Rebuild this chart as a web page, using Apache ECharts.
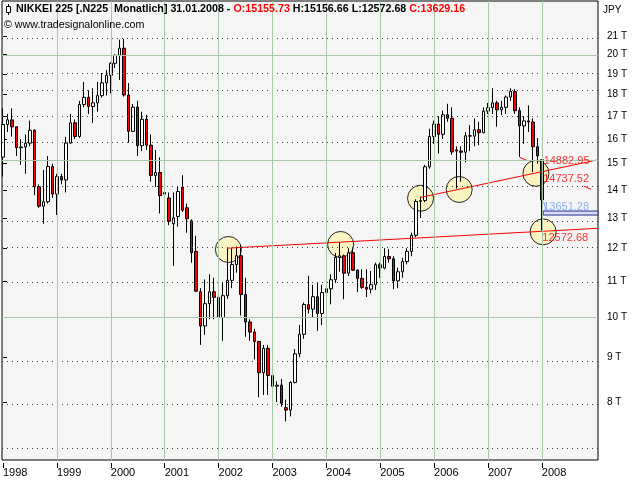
<!DOCTYPE html>
<html><head><meta charset="utf-8">
<script src="https://cdn.jsdelivr.net/npm/echarts@6/dist/echarts.min.js"></script>
<style>html,body{margin:0;padding:0;background:#fff}#c{width:640px;height:480px}</style>
</head><body><div id="c"></div>
<script>
// ---- data ----
const yearLabels = ['1998','1999','2000','2001','2002','2003','2004','2005','2006','2007','2008'];
const yearIdx = [0,12,24,36,48,60,72,84,96,108,120];
const opens = [
15258,16628,16831,16527,15641,15671,15830,16379,14108,13406,13565,14883,
13842,14499,14368,15837,16702,16112,17530,17862,17437,17605,17942,18558,
18934,19540,19960,20337,17974,16332,17411,15727,16861,15747,14539,14649,
13900,13700,12800,13050,14100,13350,12900,11900,10700,9775,10367,10697,
10543,9998,10588,11025,11493,11764,10622,9878,9619,9383,8640,9216,
8579,8340,8363,7880,7831,8425,9083,9563,10344,10219,10560,10101,
10677,10784,11042,11715,11762,11236,11859,11326,11082,10824,10771,10899,
11489,11388,11741,11669,11009,11277,11584,11900,12414,13574,13607,14872,
16111,16650,16205,17060,16906,15550,15505,15457,16141,16128,16399,16274,
17226,17383,17604,17288,17400,17876,18138,17249,16569,16786,16737,15681,
15155.73];
const closes = [
16628,16831,16527,15641,15671,15830,16379,14108,13406,13565,14883,13842,
14499,14368,15837,16702,16112,17530,17862,17437,17605,17942,18558,18934,
19540,19960,20337,17974,16332,17411,15727,16861,15747,14539,14649,13786,
13843,12884,12999,13934,13262,12969,11861,10714,9775,10367,10697,10543,
9998,10588,11025,11493,11764,10622,9878,9619,9383,8640,9216,8579,
8340,8363,7973,7831,8425,9083,9563,10344,10219,10560,10101,10677,
10784,11042,11715,11762,11236,11859,11326,11082,10824,10771,10899,11489,
11388,11741,11669,11009,11277,11584,11900,12414,13574,13607,14872,16111,
16650,16205,17060,16906,15467,15505,15457,16141,16128,16399,16274,17226,
17383,17604,17288,17400,17876,18138,17249,16569,16786,16737,15681,15308,
13629.16];
const lows = [
14500,16300,16100,15300,14950,14600,15700,13800,13350,12800,13500,13700,
13100,14200,13900,15800,16000,16050,17400,17100,16700,17200,17850,17950,
18050,19300,18700,17900,15850,16300,15300,15500,15550,14300,14100,13150,
13100,12750,11450,12700,13200,12500,11550,10700,9300,9550,9950,9950,
9800,9400,10500,10800,11250,10050,9500,9400,8950,8100,8150,8150,
8250,8000,7900,7600,7700,8400,9000,9450,10100,10000,9650,9800,
10450,10350,10950,11280,10489,11150,11300,10687,10780,10550,10650,10750,
11100,11350,11550,10770,10800,11100,11500,11750,12350,12996,13550,14800,
15800,15400,16000,16750,15350,14045,14300,15050,15500,15700,15750,16250,
17100,17100,16532,17050,17100,17700,17100,15262,15800,16300,14669,15000,
12572.68];
const highs = [
17350,17100,17350,16550,16000,16200,16800,16420,14200,14750,15300,15000,
14600,14600,16100,17100,16850,17700,18600,18200,18300,18600,19050,19200,
19600,20000,20800,20833,18550,17550,17700,17200,17050,16200,15550,15250,
14200,13900,13900,14100,14550,13500,12950,12400,10800,11050,11200,11100,
10900,10980,12000,12000,12050,12100,11100,9950,9700,9400,9300,9300,
9000,8450,8500,8050,8450,9200,9800,10400,11160,10900,10950,10900,
11050,11200,11850,12195,11800,12000,12000,11350,11350,11350,11300,11550,
11550,12000,11975,11750,11400,11700,12000,12500,13650,13750,14950,16445,
16800,17000,17250,17563,17400,15700,15700,16300,16600,16900,16750,17400,
17600,18300,17700,17700,17950,18297,18262,17400,17000,17488,16900,16044,
15156.66];
const yTicks = [8000,9000,10000,11000,12000,13000,14000,15000,16000,17000,18000,19000,20000,21000];
const dottedLevels = [7000,8000,9000,11000,12000,13000,14000,16000,17000,18000,19000,21000];
const solidLevels = [10000,15000,20000];
const yearLines = [12,24,36,48,60,72,84,96,108,120];
const supportLine = [[49.9,12000],[132.3,12645]];
const trendLine = [[93.0,13720],[132.2,15140]];
const dashLine = [[115.1,15250],[131.3,13990]];
const blueTick = [[120.33,13565],[121.1,13245]];
const blueBand = [[120.3,13236],[132.52,13097]];
const circles = [[50.2,11960],[75.2,12120],[93.0,13690],[101.6,14010],[118.7,14620],[120.3,12530]];
const priceLabelTexts = ['14882.95','14737.52','13651.28','12572.68'];
const priceLabelPos = [[120.3,15100],[120.2,14420],[120.2,13390],[120.0,12330]];
const priceLabelColors = ['#ff0000','#ff0000','#6f9cf0','#ff0000'];

// ---- build ----
const L = Math.log10;
const FONT = "'Liberation Sans', Arial, sans-serif";
const candleData = opens.map((o,i)=>[i, L(o), L(closes[i]), L(lows[i]), L(highs[i])]);
const toXY = arr => arr.map(p=>[p[0], L(p[1])]);

const gridMarks = [];
dottedLevels.forEach(v=>gridMarks.push({yAxis:L(v), lineStyle:{color:'#404040', type:[1,4], width:1}}));
solidLevels.forEach(v=>gridMarks.push({yAxis:L(v), lineStyle:{color:'#a9c8a9', type:'solid', width:1}}));
yearLines.forEach(x=>gridMarks.push({xAxis:x, lineStyle:{color:'#a9c8a9', type:'solid', width:1}}));

const chart = echarts.init(document.getElementById('c'), null, {renderer:'canvas'});
chart.setOption({
  animation:false,
  backgroundColor:'#ffffff',
  title:[
    {left:16, top:4, padding:0, text:'{k|NIKKEI 225 [.N225  Monatlich] 31.01.2008 - }{r|O:15155.73}{k| H:15156.66 L:12572.68 }{r|C:13629.16}',
     textStyle:{rich:{k:{color:'#000',fontSize:10.7,fontFamily:FONT},r:{color:'#ff0000',fontSize:10.7,fontFamily:FONT}}}},
    {left:4, top:20, padding:0, text:'© www.tradesignalonline.com', textStyle:{color:'#000',fontSize:10.7,fontWeight:'normal',fontFamily:FONT}},
    {left:603, top:5, padding:0, text:'JPY', textStyle:{color:'#000',fontSize:10,fontWeight:'normal',fontFamily:FONT}}
  ],
  graphic:[
    {type:'line', shape:{x1:8.5,y1:4,x2:8.5,y2:15}, style:{stroke:'#000',lineWidth:1}, z:100},
    {type:'rect', shape:{x:6.5,y:6.5,width:4,height:6}, style:{fill:'#fff',stroke:'#000',lineWidth:1}, z:101}
  ],
  grid:{left:2, right:42, top:1, bottom:20, show:true, backgroundColor:'#f5f5f5', borderColor:'#000', borderWidth:1},
  xAxis:{
    type:'value', min:-0.223, max:132.52, offset:3,
    axisLine:{show:false},
    axisTick:{show:true, customValues:yearIdx, length:5, lineStyle:{color:'#000'}},
    axisLabel:{show:true, customValues:yearIdx, margin:4, align:'left', color:'#000', fontSize:11, fontFamily:FONT,
      formatter:v=>{const k=yearIdx.indexOf(Math.round(v)); return k>=0?yearLabels[k]:'';}},
    splitLine:{show:false}
  },
  yAxis:{
    type:'value', position:'right', min:L(6865), max:L(23030), offset:2,
    axisLine:{show:false},
    axisTick:{show:true, customValues:yTicks.map(L), length:4, lineStyle:{color:'#000'}},
    axisLabel:{show:true, customValues:yTicks.map(L), margin:7, color:'#000', fontSize:10, fontFamily:FONT,
      formatter:v=>Math.round(Math.pow(10,v)/1000)+' T'},
    splitLine:{show:false}
  },
  series:[
    {type:'line', name:'grid', data:[], z:1, silent:true,
     markLine:{silent:true, symbol:['none','none'], label:{show:false}, animation:false, data:gridMarks}},
    {type:'scatter', name:'circles', z:2, silent:true, symbol:'circle', symbolSize:26,
     itemStyle:{color:'rgba(248,243,188,0.92)', borderColor:'#222', borderWidth:1, opacity:1},
     data:toXY(circles)},
    {type:'candlestick', name:'NIKKEI 225', z:3, barWidth:3,
     encode:{x:0, y:[1,2,3,4]},
     itemStyle:{color:'#ffffff', color0:'#ff0000', borderColor:'#000000', borderColor0:'#000000', borderWidth:1},
     data:candleData},
    {type:'line', name:'support', z:4, symbol:'none', silent:true, data:toXY(supportLine), lineStyle:{color:'#ff0000', width:1}},
    {type:'line', name:'trend', z:4, symbol:'none', silent:true, data:toXY(trendLine), lineStyle:{color:'#ff0000', width:1}},
    {type:'line', name:'dash', z:4, symbol:'none', silent:true, data:toXY(dashLine), lineStyle:{color:'#ff0000', width:1, type:[8,62]}},
    {type:'line', name:'bluetick', z:4, symbol:'none', silent:true, data:toXY(blueTick), lineStyle:{color:'#7aa6ee', width:1},
     markArea:{silent:true, itemStyle:{color:'#d9dcf3', borderColor:'#1f2f8f', borderWidth:1},
       data:[[{xAxis:blueBand[0][0], yAxis:L(blueBand[0][1])},{xAxis:blueBand[1][0], yAxis:L(blueBand[1][1])}]]}},
    {type:'scatter', name:'labels', z:5, silent:true, symbolSize:1, itemStyle:{color:'rgba(0,0,0,0)'},
     data:priceLabelPos.map((p,i)=>({value:[p[0], L(p[1])], name:priceLabelTexts[i],
       label:{show:true, position:'right', distance:0, formatter:priceLabelTexts[i], color:priceLabelColors[i], fontSize:11, fontFamily:FONT}}))}
  ]
});
</script></body></html>
